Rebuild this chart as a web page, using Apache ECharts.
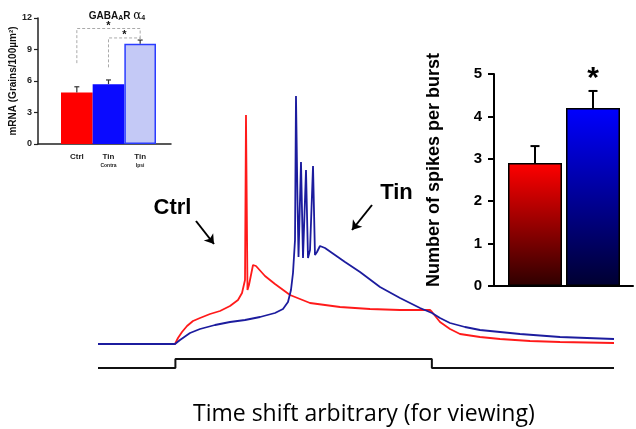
<!DOCTYPE html>
<html><head><meta charset="utf-8">
<script src="https://cdn.jsdelivr.net/npm/echarts@6/dist/echarts.min.js"></script>
<style>html,body{margin:0;padding:0;background:#fff}#c{width:636px;height:429px}</style>
</head><body><div id="c"></div>
<script>
// ---- Membrane potential traces (time in ms, Vm in mV, arbitrary shift) ----
const ctrlTime = [0,149.2,155.0,162.8,172.5,184.1,197.7,217.1,236.4,255.8,271.3,279.1,284.9,286.8,289.7,292.6,300.4,306.2,323.6,343.0,372.1,410.9,469.0,527.1,585.3,643.4,647.3,662.8,682.2,701.6,740.3,779.1,837.2,895.4,1000];
const ctrlVm   = [-70,-70,-67.6,-65.2,-62.8,-60.8,-59.6,-58.0,-56.8,-54.8,-52.4,-49.6,-44.4,21.6,-48.4,-46.4,-38.4,-38.8,-42.8,-46.0,-50.4,-53.6,-55.2,-56.0,-56.4,-56.4,-57.2,-61.2,-64.0,-66.0,-67.2,-68.0,-68.8,-69.2,-69.6];
const tinTime  = [0,149.2,158.9,178.3,197.7,226.7,255.8,284.9,314.0,343.0,358.5,368.2,374.0,377.9,381.8,383.7,386.6,388.6,393.4,397.3,403.1,407.0,410.9,416.7,420.5,424.4,430.2,439.9,459.3,478.7,507.8,546.5,585.3,624.0,647.3,662.8,682.2,711.2,740.3,779.1,817.8,895.4,1000];
const tinVm    = [-70,-70,-68.4,-65.6,-64.0,-62.4,-61.2,-60.4,-59.2,-57.6,-56.0,-53.2,-48.4,-41.6,-28.4,29.2,-12.4,-35.2,2.8,-35.6,-0.4,-35.6,-32.4,1.2,-34.4,-33.2,-30.8,-31.6,-34.4,-37.2,-41.2,-47.2,-51.6,-55.6,-57.6,-59.6,-61.6,-63.2,-64.4,-65.2,-66.0,-67.2,-68.0];
const stimTime  = [0,150,150,647,647,1000];
const stimLevel = [-79.6,-79.6,-76,-76,-79.6,-79.6];
const traceLabels = ['Ctrl','Tin'];
const traceLabelPos = [[144.4,-15.4],[578.5,-9.4]];
const arrowCoords = [[[189.9,-20.8],[224.8,-30.0]],[[531.0,-14.4],[492.3,-24.4]]];

// ---- Inset: GABAAR alpha4 mRNA ----
const insetCategories = ['Ctrl','Tin Contra','Tin Ipsi'];
const insetValues = [4.9,5.7,9.55];
const insetErrors = [0.55,0.4,0.35];
const insetTicks = [0,3,6,9,12];
// [leftIdx, rightIdx, yLeftStart, yTop, yRightEnd]
const insetBrackets = [[0,2,7.7,11.0,9.95],[1,2,7.3,10.1,9.95]];

// ---- Right: spikes per burst ----
const burstCategories = ['Ctrl','Tin'];
const burstValues = [2.9,4.2];
const burstErrors = [0.4,0.4];
const burstTicks = [0,1,2,3,4,5];

const zip = (a,b) => a.map((v,i)=>[v,b[i]]);
const chart = echarts.init(document.getElementById('c'), null, {renderer:'canvas'});

function errorRender(capW, color, lw){
  return function(params, api){
    const x = api.value(0), v = api.value(1), e = api.value(2);
    const p0 = api.coord([x, v]), p1 = api.coord([x, v+e]);
    return {type:'group', children:[
      {type:'line', shape:{x1:p0[0],y1:p0[1],x2:p1[0],y2:p1[1]}, style:{stroke:color,lineWidth:lw}},
      {type:'line', shape:{x1:p1[0]-capW/2,y1:p1[1],x2:p1[0]+capW/2,y2:p1[1]}, style:{stroke:color,lineWidth:lw}}
    ]};
  };
}

const insetColors = ['#ff0000','#0a0aff','#c4c9f6'];
const burstGrad = [
  new echarts.graphic.LinearGradient(0,0,0,1,[{offset:0,color:'#ff0000'},{offset:1,color:'#2e0000'}]),
  new echarts.graphic.LinearGradient(0,0,0,1,[{offset:0,color:'#0000ff'},{offset:1,color:'#000030'}])
];

const F = 'Liberation Sans, Arial, sans-serif';

chart.setOption({
  animation:false,
  backgroundColor:'#fff',
  title:[
    {text:'Time shift arbitrary (for viewing)', left:188, top:398,
     textStyle:{fontFamily:'Open Sans', fontWeight:'normal', fontSize:23, color:'#000'}},
    {text:'{a|GABA}{s|A}{a|R }{g|α}{s|4}', left:112, top:5, textAlign:'center',
     textStyle:{rich:{a:{fontFamily:F,fontWeight:'bold',fontSize:10,color:'#111'},
                      g:{fontFamily:'DejaVu Serif',fontWeight:'normal',fontSize:12,color:'#111'},
                      s:{fontFamily:F,fontWeight:'bold',fontSize:7,color:'#111',padding:[4,0,0,0]}}}}
  ],
  grid:[
    {left:98, top:89, width:516, height:280},
    {left:38, top:18, width:133, height:126},
    {left:61, top:18, width:95, height:126},
    {left:494, top:74, width:139, height:212},
    {left:506, top:74, width:116, height:212}
  ],
  xAxis:[
    {gridIndex:0, type:'value', min:0, max:1000, show:false},
    {gridIndex:1, type:'value', min:0, max:1, axisLine:{show:true,lineStyle:{color:'#222',width:1.5}},
     axisTick:{show:false}, axisLabel:{show:false}, splitLine:{show:false}},
    {gridIndex:2, type:'category', data:insetCategories, axisLine:{show:false}, axisTick:{show:false},
     axisLabel:{margin:8, interval:0, formatter:function(v){const p=v.split(' ');return p.length>1?'{a|'+p[0]+'}\n{b|'+p[1]+'}':'{a|'+p[0]+'}';},
       rich:{a:{fontFamily:F,fontWeight:'bold',fontSize:8,color:'#222',lineHeight:10},
             b:{fontFamily:F,fontWeight:'bold',fontSize:5,color:'#222',lineHeight:7}},
       verticalAlign:'top'}},
    {gridIndex:3, type:'value', min:0, max:1, axisLine:{show:true,lineStyle:{color:'#000',width:2}},
     axisTick:{show:false}, axisLabel:{show:false}, splitLine:{show:false}},
    {gridIndex:4, type:'category', data:burstCategories, show:false}
  ],
  yAxis:[
    {gridIndex:0, type:'value', min:-80, max:32, show:false},
    {gridIndex:1, type:'value', min:insetTicks[0], max:insetTicks[insetTicks.length-1], interval:insetTicks[1]-insetTicks[0],
     name:'mRNA (Grains/100µm²)', nameLocation:'middle', nameGap:18,
     nameTextStyle:{fontFamily:F,fontWeight:'bold',fontSize:10,color:'#111'},
     axisLine:{show:true,lineStyle:{color:'#222',width:1.5}},
     axisTick:{show:true,length:4,lineStyle:{color:'#222',width:1.2}},
     axisLabel:{fontFamily:F,fontWeight:'bold',fontSize:9,color:'#222',margin:6},
     splitLine:{show:false}},
    {gridIndex:2, type:'value', min:0, max:12, show:false},
    {gridIndex:3, type:'value', min:burstTicks[0], max:burstTicks[burstTicks.length-1], interval:1,
     name:'Number of spikes per burst', nameLocation:'middle', nameGap:51,
     nameTextStyle:{fontFamily:F,fontWeight:'bold',fontSize:18,color:'#000',padding:[0,0,0,20]},
     axisLine:{show:true,lineStyle:{color:'#000',width:2}},
     axisTick:{show:true,length:6,lineStyle:{color:'#000',width:2}},
     axisLabel:{fontFamily:F,fontWeight:'bold',fontSize:15,color:'#000',margin:12},
     splitLine:{show:false}},
    {gridIndex:4, type:'value', min:0, max:5, show:false}
  ],
  series:[
    {type:'line', xAxisIndex:0, yAxisIndex:0, data:zip(stimTime,stimLevel), showSymbol:false, symbol:'none',
     lineStyle:{color:'#111',width:2}, z:2},
    {type:'line', xAxisIndex:0, yAxisIndex:0, data:zip(ctrlTime,ctrlVm), showSymbol:false, symbol:'none',
     lineStyle:{color:'#ff1a1a',width:1.8}, z:3},
    {type:'line', xAxisIndex:0, yAxisIndex:0, data:zip(tinTime,tinVm), showSymbol:false, symbol:'none',
     lineStyle:{color:'#1c1c9e',width:1.8}, z:4},
    {type:'scatter', xAxisIndex:0, yAxisIndex:0, symbolSize:0, itemStyle:{opacity:1},
     data:traceLabels.map((t,i)=>[traceLabelPos[i][0],traceLabelPos[i][1],t]),
     label:{show:true, position:'inside', formatter:p=>p.value[2], fontFamily:F, fontWeight:'bold', fontSize:22, color:'#000', opacity:1}},
    {type:'lines', coordinateSystem:'cartesian2d', xAxisIndex:0, yAxisIndex:0,
     data:arrowCoords.map(c=>({coords:c})), symbol:['none','arrow'], symbolSize:9,
     lineStyle:{color:'#000',width:2,opacity:1}},
    // inset bars
    {type:'bar', xAxisIndex:2, yAxisIndex:2, barWidth:'100%',
     data:insetValues.map((v,i)=>({value:v, itemStyle:{color:insetColors[i],
        borderColor: i===2 ? '#2a3cff' : insetColors[i], borderWidth: i===2 ? 1.5 : 0}})), z:2},
    {type:'custom', xAxisIndex:2, yAxisIndex:2, renderItem:errorRender(5,'#333',1.2),
     data:insetValues.map((v,i)=>[i,v,insetErrors[i]]), z:3},
    {type:'custom', xAxisIndex:2, yAxisIndex:2, z:4,
     data:insetBrackets,
     renderItem:function(params, api){
       const a=api.value(0), b=api.value(1), y0=api.value(2), yt=api.value(3), y1=api.value(4);
       const p1=api.coord([a,y0]), p2=api.coord([a,yt]), p3=api.coord([b,yt]), p4=api.coord([b,y1]);
       return {type:'group', children:[
         {type:'polyline', shape:{points:[p1,p2,p3,p4]}, style:{stroke:'#aaa',lineWidth:1,lineDash:[3,2],fill:null}},
         {type:'text', x:(p2[0]+p3[0])/2, y:p2[1]-3, style:{text:'*', align:'center', verticalAlign:'middle',
            font:'bold 11px Liberation Sans', fill:'#111'}}
       ]};
     }},
    // right bars
    {type:'bar', xAxisIndex:4, yAxisIndex:4, barWidth:54,
     data:burstValues.map((v,i)=>({value:v, itemStyle:{color:burstGrad[i], borderColor:'#000', borderWidth:1.5}})), z:2},
    {type:'custom', xAxisIndex:4, yAxisIndex:4, renderItem:errorRender(9,'#000',2),
     data:burstValues.map((v,i)=>[i,v,burstErrors[i]]), z:3},
    {type:'scatter', xAxisIndex:4, yAxisIndex:4, symbolSize:0, itemStyle:{opacity:1}, data:[[1, burstValues[1]+burstErrors[1]+0.3]],
     label:{show:true, position:'inside', formatter:'*', fontFamily:F, fontWeight:'bold', fontSize:30, color:'#000', opacity:1}}
  ]
});
</script></body></html>
